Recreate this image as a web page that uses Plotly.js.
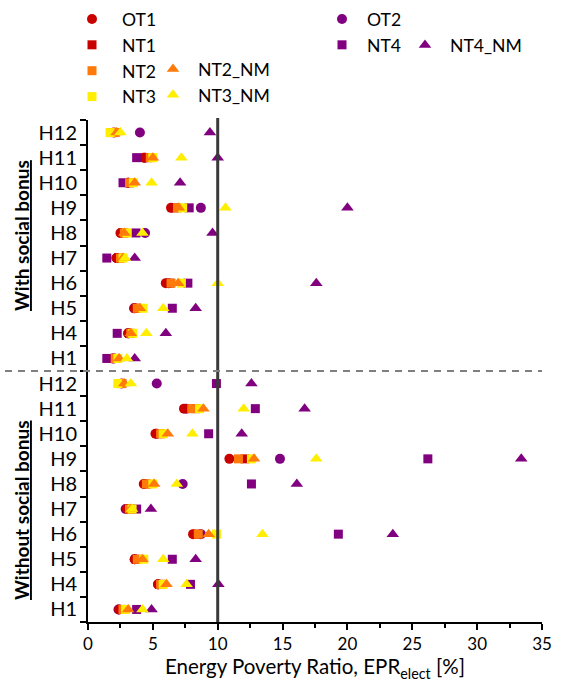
<!DOCTYPE html>
<html>
<head>
<meta charset="utf-8">
<script src="https://cdn.plot.ly/plotly-3.0.1.min.js"></script>
<style>html,body{margin:0;padding:0;background:#fff;}#chart{width:561px;height:686px;}</style>
</head>
<body>
<div id="chart"></div>
<script>
// Households (bottom to top inside each block)
const households = ['H1','H4','H5','H6','H7','H8','H9','H10','H11','H12'];
const groups = ['Without social bonus','With social bonus'];

// EPR_elect [%]  order: H1,H4,H5,H6,H7,H8,H9,H10,H11,H12
const OT1_with     = [2.0, 3.1, 3.6, 6.0, 2.2, 2.5, 6.4, 3.1, 4.3, 2.0];
const OT1_without  = [2.4, 5.4, 3.6, 8.1, 3.0, 4.3, 10.9, 5.2, 7.4, 2.6];
const OT2_with     = [1.9, 3.1, 3.55, 6.2, 2.2, 4.4, 8.7, 3.1, 4.4, 4.0];
const OT2_without  = [2.35, 5.4, 3.6, 8.7, 2.9, 7.3, 14.8, 5.3, 7.6, 5.3];
const NT1_with     = [2.1, 3.2, 3.7, 6.3, 2.4, 2.7, 6.7, 3.2, 4.6, 2.0];
const NT1_without  = [2.6, 5.6, 3.7, 8.4, 3.2, 4.5, 12.1, 5.5, 8.3, 2.6];
const NT2_with     = [2.1, 3.3, 3.8, 6.4, 2.5, 2.8, 6.9, 3.2, 4.8, 2.1];
const NT2_without  = [2.7, 5.6, 3.8, 8.5, 3.2, 4.5, 11.6, 5.6, 8.0, 2.6];
const NT3_with     = [2.3, 3.45, 4.25, 7.2, 2.7, 3.0, 7.3, 3.5, 5.0, 1.7];
const NT3_without  = [2.9, 5.8, 4.3, 9.9, 3.4, 5.0, 12.6, 5.8, 8.6, 2.3];
const NT4_with     = [1.45, 2.25, 6.5, 7.7, 1.45, 3.7, 7.8, 2.7, 3.75, 1.8];
const NT4_without  = [3.75, 7.9, 6.5, 19.3, 3.75, 12.6, 26.2, 9.3, 12.9, 9.9];
const NT2NM_with    = [2.4, 3.3, 4.0, 6.95, 2.7, 2.8, 7.0, 3.6, 5.0, 2.2];
const NT2NM_without = [3.1, 6.05, 4.2, 9.3, 3.3, 5.1, 12.8, 6.15, 8.9, 2.8];
const NT3NM_with    = [3.0, 4.5, 5.8, 10.0, 2.85, 4.2, 10.6, 4.9, 7.2, 2.5];
const NT3NM_without = [4.2, 7.6, 5.8, 13.45, 3.4, 6.85, 17.6, 8.05, 12.0, 3.3];
const NT4NM_with    = [3.6, 6.0, 8.3, 17.6, 3.6, 9.6, 20.0, 7.1, 10.0, 9.4];
const NT4NM_without = [4.9, 10.05, 8.3, 23.5, 4.85, 16.1, 33.4, 11.85, 16.7, 12.6];

const xTicks = [0,5,10,15,20,25,30,35];
const threshold = 10;

const n = households.length;
const rowsWithout = households.map((h,i)=>i+1);
const rowsWith = households.map((h,i)=>i+1+n);
const allRows = rowsWithout.concat(rowsWith);
const allLabels = households.concat(households);

function tr(name, withArr, withoutArr, symbol, color, size, legend){
  return {
    type:'scatter', mode:'markers', name:name,
    x: withoutArr.concat(withArr), y: allRows,
    marker:{symbol:symbol, color:color, size:size, line:{width:0}},
    legend: legend, hoverinfo:'x+name'
  };
}
const RED='#C80000', ORANGE='#FF7A0A', YELLOW='#FFEE00', PURPLE='#800080';

const traces = [
  tr('OT2', OT2_with, OT2_without, 'circle', PURPLE, 10, 'legend3'),
  tr('OT1', OT1_with, OT1_without, 'circle', RED, 10, 'legend5'),
  tr('NT4', NT4_with, NT4_without, 'square', PURPLE, 9, 'legend3'),
  tr('NT1', NT1_with, NT1_without, 'square', RED, 9, 'legend5'),
  tr('NT2', NT2_with, NT2_without, 'square', ORANGE, 9, 'legend5'),
  tr('NT3', NT3_with, NT3_without, 'square', YELLOW, 9, 'legend5'),
  tr('NT4_NM', NT4NM_with, NT4NM_without, 'triangle-up', PURPLE, 11, 'legend4'),
  tr('NT2_NM', NT2NM_with, NT2NM_without, 'triangle-up', ORANGE, 11, 'legend2'),
  tr('NT3_NM', NT3NM_with, NT3NM_without, 'triangle-up', YELLOW, 11, 'legend2')
];

const FONT = 'Lato, "Open Sans", sans-serif';
const W = 561, H = 686;
const plotL = 88, plotR = 542, plotT = 120, plotB = 622;
const pw = plotR-plotL, ph = plotB-plotT;
const px2x = p => (p-plotL)/pw;
const py2y = p => 1 + (plotT-p)/ph;
const cx = p => p/W;
const cy = p => 1 - p/H;
const legBase = {orientation:'v', xref:'container', yref:'container', xanchor:'left', yanchor:'top',
  bgcolor:'rgba(0,0,0,0)', borderwidth:0, font:{family:FONT, size:17.6, color:'#000'},
  itemwidth:40, traceorder:'normal'};

const layout = {
  width:W, height:H,
  margin:{l:plotL, r:W-plotR, t:plotT, b:H-plotB, autoexpand:false},
  paper_bgcolor:'#fff', plot_bgcolor:'#fff',
  font:{family:FONT, color:'#000'},
  showlegend:true,
  legend: Object.assign({}, legBase, {x:cx(67), y:cy(1), visible:false}),
  legend5: Object.assign({}, legBase, {x:cx(62), y:cy(1), itemwidth:50}),
  legend2: Object.assign({}, legBase, {x:cx(148), y:cy(51)}),
  legend3: Object.assign({}, legBase, {x:cx(317), y:cy(1)}),
  legend4: Object.assign({}, legBase, {x:cx(400), y:cy(27)}),
  xaxis:{
    range:[0,35], tickvals:xTicks, ticktext:xTicks.map(String),
    ticks:'outside', ticklen:6, tickwidth:2, tickcolor:'#000',
    minor:{tick0:2.5, dtick:5, ticks:'outside', ticklen:4, tickwidth:2, tickcolor:'#000'},
    showline:true, linecolor:'#000', linewidth:2, showgrid:false, zeroline:false,
    tickfont:{family:FONT, size:17, color:'#000'},
    title:{text:'Energy Poverty Ratio, EPR<sub>elect</sub> [%]', font:{family:FONT, size:20.5, color:'#000'}, standoff:0}
  },
  yaxis:{
    range:[0.5, 2*n+0.5], tickvals:allRows, ticktext:allLabels,
    ticks:'', ticklabelstandoff:5,
    minor:{tick0:0.5, dtick:1, ticks:'outside', ticklen:6, tickwidth:2, tickcolor:'#000', showgrid:false},
    showline:true, linecolor:'#000', linewidth:2, showgrid:false, zeroline:false,
    tickfont:{family:FONT, size:20, color:'#000'}
  },
  shapes:[
    {type:'line', xref:'x', yref:'paper', x0:threshold, x1:threshold, y0:0, y1:1.004,
     line:{color:'#3a3a3a', width:3}},
    {type:'line', xref:'paper', yref:'y', x0:px2x(5), x1:1, y0:n+0.5, y1:n+0.5,
     line:{color:'#7f7f7f', width:2, dash:'7px,6px'}}
  ],
  annotations:[
    {xref:'paper', yref:'paper', x:px2x(21), y:py2y(236), xanchor:'center', yanchor:'middle',
     text:'<b><u>'+groups[1]+'</u></b>',
     textangle:-90, showarrow:false, font:{family:FONT, size:19, color:'#000'}},
    {xref:'paper', yref:'paper', x:px2x(21), y:py2y(510), xanchor:'center', yanchor:'middle',
     text:'<b><u>'+groups[0]+'</u></b>',
     textangle:-90, showarrow:false, font:{family:FONT, size:19, color:'#000'}}
  ]
};

Plotly.newPlot('chart', traces, layout, {displayModeBar:false, staticPlot:true});
</script>
</body>
</html>
